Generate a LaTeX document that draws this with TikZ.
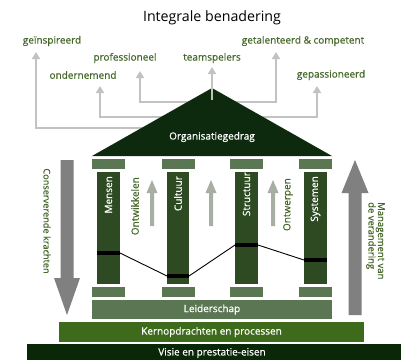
\documentclass[tikz,border=0pt]{standalone}
\usepackage{fontspec}
\setmainfont{Open Sans}
\newfontfamily\medfont{Open Sans}[FakeBold=0.6]
\usetikzlibrary{arrows.meta}
\definecolor{roofc}{HTML}{0E2A0E}
\definecolor{colc}{HTML}{2D4A23}
\definecolor{capc}{HTML}{5B7652}
\definecolor{kernc}{HTML}{3D6A1B}
\definecolor{visc}{HTML}{0A2808}
\definecolor{txtg}{HTML}{46672A}
\definecolor{topar}{HTML}{C2C2C2}
\definecolor{bigar}{HTML}{808080}
\definecolor{smar}{HTML}{A8AFA2}
\tikzset{
  lbl/.style={text=txtg, font=\medfont\fontsize{10}{11}\selectfont, inner sep=0pt},
  wlbl/.style={text=white, font=\medfont\fontsize{10}{11}\selectfont, inner sep=0pt},
  toparrow/.style={draw=topar, line width=2.6pt, -{Triangle[length=7pt,width=8pt]}},
  capbox/.style={fill=capc},
  colbox/.style={fill=colc},
  band/.style={fill=black},
  smallarrow/.style={fill=smar},
  bigarrow/.style={fill=bigar},
}
\begin{document}
\begin{tikzpicture}[x=1pt,y=-1pt]
\useasboundingbox (0,0) rectangle (401,360);
% title
\node[inner sep=0pt, font=\fontsize{14.2}{16}\selectfont] (title) at (212,18) {Integrale benadering};
% labels
\node[lbl] (l1) at (52,41) {geïnspireerd};
\node[lbl] (l2) at (303,41) {getalenteerd \& competent};
\node[lbl] (l3) at (125,58) {professioneel};
\node[lbl] (l4) at (212,58) {teamspelers};
\node[lbl] (l5) at (83,75) {ondernemend};
\node[lbl] (l6) at (331,75) {gepassioneerd};
% top connector coordinates
\coordinate (a1) at (147,128); \coordinate (b1) at (36,128); \coordinate (t1) at (36,52);
\coordinate (a5) at (168,117); \coordinate (b5) at (100,117); \coordinate (t5) at (100,86);
\coordinate (a3) at (197,102); \coordinate (b3) at (140,102); \coordinate (t3) at (140,71);
\coordinate (a4) at (212,100); \coordinate (t4) at (212,67);
\coordinate (a2) at (230,102); \coordinate (b2) at (276,102); \coordinate (t2) at (276,52);
\coordinate (a6) at (258,117); \coordinate (b6) at (317,117); \coordinate (t6) at (317,86);
\draw[toparrow] (a1) -- (b1) -- (t1);
\draw[toparrow] (a5) -- (b5) -- (t5);
\draw[toparrow] (a3) -- (b3) -- (t3);
\draw[toparrow] (a2) -- (b2) -- (t2);
\draw[toparrow] (a6) -- (b6) -- (t6);
% roof
\fill[roofc] (92,156) -- (212,88) -- (332,156) -- cycle;
\draw[toparrow] (a4) -- (t4);
\node[wlbl] (roof) at (212,137) {Organisatiegedrag};
% caps and columns
\foreach \cx in {92, 162, 230, 299}{
  \fill[capbox] (\cx,159) rectangle ++(33,10);
  \fill[capbox] (\cx,287) rectangle ++(33,10);
}
\fill[colbox] (97,172) rectangle (120,284);
\fill[colbox] (167,172) rectangle (189,284);
\fill[colbox] (235,172) rectangle (258,284);
\fill[colbox] (304,172) rectangle (327,284);
% bands
\fill[band] (97,251) rectangle (120,255);
\fill[band] (167,274) rectangle (189,278);
\fill[band] (235,243) rectangle (258,247);
\fill[band] (304,258) rectangle (327,262);
\coordinate (m1) at (120,253); \coordinate (c0) at (167,276);
\coordinate (c1) at (189,276); \coordinate (s0) at (235,245);
\coordinate (s1) at (258,245); \coordinate (y0) at (304,260);
\draw[line width=0.9pt] (m1) -- (c0) (c1) -- (s0) (s1) -- (y0);
% column labels
\node[wlbl, rotate=90, anchor=east] (mensen) at (108.5,176) {Mensen};
\node[wlbl, rotate=90, anchor=east] (cultuur) at (178,176) {Cultuur};
\node[wlbl, rotate=90, anchor=east] (structuur) at (246.5,172) {Structuur};
\node[wlbl, rotate=90, anchor=east] (systemen) at (315.5,176) {Systemen};
\node[lbl, rotate=90, anchor=east] (ontw) at (135,177) {Ontwikkelen};
\node[lbl, rotate=90, anchor=east] (ontwp) at (288,178) {Ontwerpen};
% small arrows
\foreach \ax in {152,211,273}{
  \fill[smallarrow] (\ax-2,226) -- (\ax-2,193) -- (\ax-5.5,193) -- (\ax,180) -- (\ax+5.5,193) -- (\ax+2,193) -- (\ax+2,226) -- cycle;
}
% big arrows
\fill[bigarrow] (60.5,160) -- (73.5,160) -- (73.5,278) -- (80,278) -- (67,315) -- (54,278) -- (60.5,278) -- cycle;
\fill[bigarrow] (348.5,315) -- (361.5,315) -- (361.5,193) -- (368.5,193) -- (355,160) -- (341.5,193) -- (348.5,193) -- cycle;
\node[lbl, rotate=-90, font=\medfont\fontsize{9.2}{11}\selectfont] (cons) at (47,221) {Conserverende krachten};
\node[lbl, rotate=-90, anchor=north west, align=left, font=\medfont\fontsize{9.5}{9.5}\selectfont] (mgmt) at (385,202) {Management van\\de verandering};
% base layers
\fill[capc] (92,300) rectangle (332,319);
\node[wlbl] (leid) at (212,309.5) {Leiderschap};
\fill[kernc] (59,322) rectangle (364,342);
\node[wlbl] (kern) at (211.5,332) {Kernopdrachten en processen};
\fill[visc] (27,344) rectangle (401,360);
\node[wlbl] (vis) at (212,353) {Visie en prestatie-eisen};
\end{tikzpicture}
\end{document}
